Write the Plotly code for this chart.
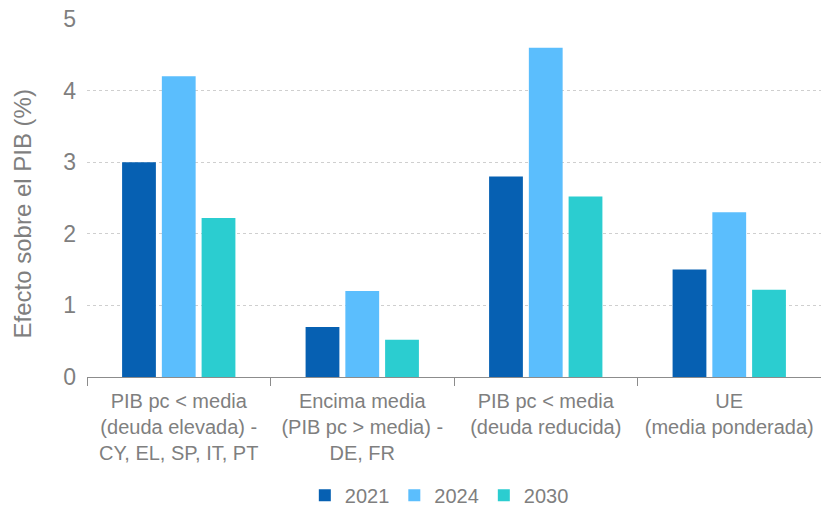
import plotly.graph_objects as go

categories = [
    "PIB pc < media<br>(deuda elevada) -<br>CY, EL, SP, IT, PT",
    "Encima media<br>(PIB pc > media) -<br>DE, FR",
    "PIB pc < media<br>(deuda reducida)",
    "UE<br>(media ponderada)",
]
years = ["2021", "2024", "2030"]
values_2021 = [3.0, 0.7, 2.8, 1.5]
values_2024 = [4.2, 1.2, 4.6, 2.3]
values_2030 = [2.22, 0.52, 2.52, 1.22]
colors = ["#0660B2", "#5BBEFD", "#2BCDD0"]

grey = "#7f7f7f"
fig = go.Figure()
for name, vals, col in zip(years, [values_2021, values_2024, values_2030], colors):
    fig.add_trace(go.Bar(x=categories, y=vals, name=name, marker_color=col,
                         marker_line_width=0))

fig.update_layout(
    width=821, height=506,
    margin=dict(l=87, r=0, t=19, b=129, autoexpand=False),
    plot_bgcolor="white", paper_bgcolor="white",
    font=dict(family="Liberation Sans, Arial, sans-serif", color=grey, size=20),
    barmode="group", bargap=0.35, bargroupgap=0.15,
    showlegend=True,
    legend=dict(orientation="h", x=0.48, xanchor="center", y=-0.33, yanchor="middle",
                font=dict(size=20, color=grey), itemwidth=30, traceorder="normal",
                tracegroupgap=0),
    annotations=[dict(
        text="Efecto sobre el PIB (%)", textangle=-90, showarrow=False,
        xref="paper", yref="paper", x=-0.088, xanchor="center",
        y=0.455, yanchor="middle", font=dict(size=24, color=grey),
    )],
)
fig.update_xaxes(
    automargin=False,
    showline=True, linecolor="#8c8c8c", linewidth=1,
    ticks="outside", tickson="boundaries", ticklen=8, tickcolor="#8c8c8c",
    tickfont=dict(size=20, color=grey), ticklabelstandoff=6,
)
fig.update_yaxes(
    automargin=False,
    range=[0, 5], dtick=1, showgrid=True, gridcolor="#cfcfcf", griddash="dot",
    gridwidth=1, zeroline=False, showline=False,
    tickfont=dict(size=23, color=grey), ticklabelstandoff=10,
)

fig.write_html("out.html")
